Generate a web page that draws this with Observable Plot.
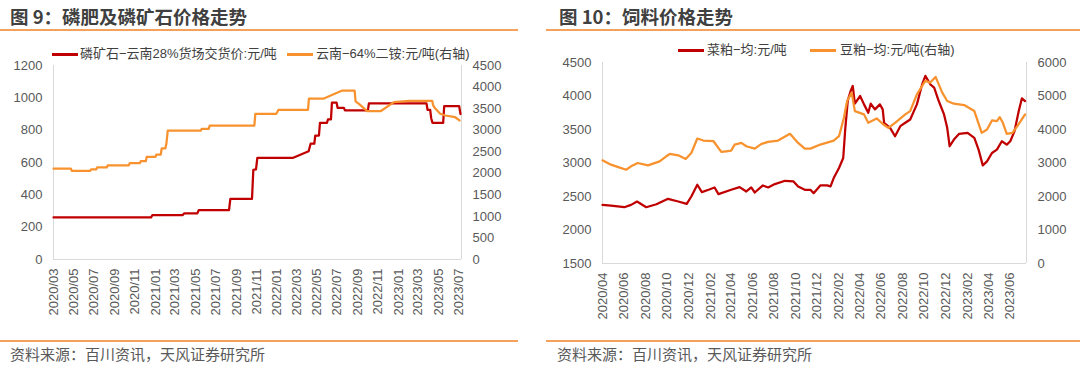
<!DOCTYPE html>
<html><head><meta charset="utf-8">
<script src="https://cdn.jsdelivr.net/npm/d3@7"></script>
<script src="https://cdn.jsdelivr.net/npm/@observablehq/plot@0.6"></script>
<style>
body{margin:0;background:#fff;}
#root{position:relative;width:1080px;height:365px;overflow:hidden;font-family:"Liberation Sans",Arial,"Noto Sans CJK SC",sans-serif;}
.title{position:absolute;top:4px;font-family:"Noto Sans CJK SC",sans-serif;font-weight:bold;font-size:18.5px;color:#404040;white-space:nowrap;line-height:24px}
.rule{position:absolute;height:1.5px;background:#F4A15D}
.src{position:absolute;top:344px;font-family:"Noto Sans CJK SC",sans-serif;font-size:15px;color:#595959;line-height:20px;white-space:nowrap}
.lg{position:absolute;font-family:"Liberation Sans",Arial,"Noto Sans CJK SC",sans-serif;font-size:13px;color:#404040;white-space:nowrap;line-height:16px}
.sw{position:absolute;height:2.5px}
.panel{position:absolute;top:40px}
</style></head><body><div id="root"></div>
<script>
// ---------- 图9 data ----------
const rockPrice = [ // 磷矿石-云南28%货场交货价 (左轴, 元/吨)
["2020-03-01",260],["2020-12-19",260],["2020-12-23",275],["2021-03-24",275],["2021-03-28",285],
["2021-05-07",285],["2021-05-11",305],["2021-08-10",305],["2021-08-14",375],["2021-10-18",375],
["2021-10-22",555],["2021-10-30",558],["2021-11-03",628],["2022-02-17",628],["2022-04-06",670],
["2022-04-12",716],["2022-04-23",716],["2022-04-26",767],["2022-05-07",767],["2022-05-10",845],
["2022-05-31",845],["2022-06-03",866],["2022-06-12",866],["2022-06-15",970],["2022-06-29",970],
["2022-07-02",938],["2022-07-21",938],["2022-07-24",922],["2022-10-01",922],["2022-10-04",965],
["2023-03-26",965],["2023-03-29",926],["2023-04-06",926],["2023-04-09",874],["2023-04-13",845],
["2023-05-15",845],["2023-05-18",948],["2023-07-02",948],["2023-07-06",900]];
const dapPrice = [ // 云南-64%二铵 (右轴, 元/吨)
["2020-03-01",2110],["2020-04-22",2110],["2020-04-25",2055],["2020-06-19",2055],["2020-06-22",2090],
["2020-07-07",2090],["2020-07-10",2135],["2020-08-08",2135],["2020-08-11",2185],["2020-10-13",2185],
["2020-10-16",2235],["2020-11-15",2235],["2020-11-18",2280],["2020-12-03",2280],["2020-12-06",2380],
["2021-01-01",2380],["2021-01-04",2435],["2021-01-17",2435],["2021-01-20",2580],["2021-01-31",2580],
["2021-02-03",2690],["2021-02-07",2990],["2021-05-17",2990],["2021-05-20",3030],["2021-06-10",3030],
["2021-06-13",3105],["2021-10-25",3105],["2021-10-28",3380],["2021-12-30",3380],["2022-01-02",3420],
["2022-01-05",3470],["2022-04-04",3470],["2022-04-07",3730],["2022-05-20",3730],["2022-07-16",3920],
["2022-08-22",3920],["2022-08-25",3670],["2022-09-04",3610],["2022-09-29",3440],["2022-11-08",3440],
["2022-12-18",3650],["2023-02-02",3680],["2023-04-12",3680],["2023-04-15",3572],["2023-04-22",3495],
["2023-05-06",3380],["2023-05-21",3340],["2023-06-20",3300],["2023-07-03",3225]];
const xTicks9 = ["2020/03","2020/05","2020/07","2020/09","2020/11","2021/01","2021/03","2021/05","2021/07",
"2021/09","2021/11","2022/01","2022/03","2022/05","2022/07","2022/09","2022/11","2023/01","2023/03","2023/05","2023/07"];
const yLeft9 = [0,200,400,600,800,1000,1200];
const yRight9 = [0,500,1000,1500,2000,2500,3000,3500,4000,4500];
const xDomain9 = ["2020-03-01","2023-07-09"];

// ---------- 图10 data ----------
const rapeMeal = [ // 菜粕-均 (左轴, 元/吨)
["2020-04-01",2375],["2020-04-25",2365],["2020-06-02",2340],["2020-06-21",2375],["2020-07-08",2425],
["2020-08-03",2340],["2020-09-01",2385],["2020-10-04",2465],["2020-11-02",2425],["2020-11-26",2390],
["2020-12-09",2500],["2020-12-26",2675],["2021-01-08",2565],["2021-01-27",2600],["2021-02-13",2635],
["2021-02-24",2535],["2021-04-01",2600],["2021-04-25",2640],["2021-05-14",2575],["2021-05-28",2635],
["2021-06-07",2560],["2021-06-30",2665],["2021-07-15",2635],["2021-08-03",2685],["2021-09-01",2735],
["2021-09-25",2725],["2021-10-08",2650],["2021-10-27",2600],["2021-11-12",2600],["2021-11-21",2550],
["2021-12-10",2665],["2021-12-29",2665],["2022-01-08",2650],["2022-01-17",2775],["2022-02-01",2925],
["2022-02-13",3075],["2022-02-19",3525],["2022-02-26",3935],["2022-03-06",4075],["2022-03-12",4150],
["2022-03-18",3885],["2022-04-02",4000],["2022-04-13",3875],["2022-04-25",3750],["2022-05-02",3885],
["2022-05-14",3800],["2022-05-28",3875],["2022-06-05",3800],["2022-06-09",3600],["2022-06-26",3525],
["2022-07-10",3400],["2022-07-25",3550],["2022-08-08",3600],["2022-08-22",3650],["2022-09-10",3875],
["2022-09-25",4175],["2022-10-04",4300],["2022-10-18",4175],["2022-10-29",4125],["2022-11-11",3925],
["2022-11-26",3725],["2022-12-05",3525],["2022-12-12",3250],["2022-12-24",3350],["2023-01-08",3435],
["2023-02-01",3450],["2023-02-20",3375],["2023-03-04",3200],["2023-03-16",2965],["2023-03-28",3025],
["2023-04-11",3150],["2023-04-25",3200],["2023-05-09",3325],["2023-05-23",3275],["2023-06-02",3325],
["2023-06-14",3475],["2023-06-26",3775],["2023-07-05",3965],["2023-07-14",3925]];
const soyMeal = [ // 豆粕-均 (右轴, 元/吨)
["2020-04-01",3080],["2020-04-25",2950],["2020-05-18",2870],["2020-06-07",2800],["2020-06-21",2900],
["2020-07-10",3000],["2020-08-08",2930],["2020-09-10",3050],["2020-09-29",3200],["2020-10-09",3270],
["2020-11-02",3230],["2020-11-23",3120],["2020-12-09",3300],["2020-12-26",3730],["2021-01-12",3670],
["2021-02-10",3650],["2021-03-04",3330],["2021-03-18",3350],["2021-04-01",3370],["2021-04-11",3550],
["2021-04-30",3600],["2021-05-14",3500],["2021-06-07",3430],["2021-06-26",3570],["2021-07-15",3630],
["2021-08-12",3670],["2021-09-15",3870],["2021-10-08",3600],["2021-10-27",3430],["2021-11-12",3430],
["2021-12-10",3550],["2022-01-17",3670],["2022-02-01",3800],["2022-02-15",4350],["2022-02-24",4850],
["2022-03-09",5100],["2022-03-18",4550],["2022-04-13",4450],["2022-04-25",4200],["2022-05-19",4330],
["2022-06-07",4150],["2022-06-21",4050],["2022-07-10",4200],["2022-08-08",4450],["2022-08-22",4550],
["2022-09-10",5050],["2022-10-04",5450],["2022-10-18",5400],["2022-11-02",5570],["2022-11-21",5100],
["2022-12-05",4850],["2022-12-24",4770],["2023-01-22",4730],["2023-02-20",4550],["2023-03-13",3900],
["2023-03-28",4000],["2023-04-11",4270],["2023-04-25",4250],["2023-05-03",4370],["2023-05-12",4200],
["2023-05-23",3870],["2023-06-08",3900],["2023-06-22",4100],["2023-07-14",4450]];
const xTicks10 = ["2020/04","2020/06","2020/08","2020/10","2020/12","2021/02","2021/04","2021/06","2021/08",
"2021/10","2021/12","2022/02","2022/04","2022/06","2022/08","2022/10","2022/12","2023/02","2023/04","2023/06"];
const yLeft10 = [1500,2000,2500,3000,3500,4000,4500];
const yRight10 = [0,1000,2000,3000,4000,5000,6000];
const xDomain10 = ["2020-04-01","2023-07-18"];

// ---------- drawing ----------
const RED = "#C00000", ORANGE = "#F7922E", AXIS = "#D9D9D9";
const root = document.getElementById("root");
const parseTick = d3.utcParse("%Y/%m");
const fmtTick = d3.utcFormat("%Y/%m");
const toDate = s => new Date(s + "T00:00:00Z");

function el(cls, style, text) {
  const d = document.createElement("div");
  d.className = cls;
  Object.assign(d.style, style);
  if (text != null) d.textContent = text;
  root.appendChild(d);
  return d;
}

function dualPanel({left, top, width, height, m, xDomain, xTicks, yLeft, yRight, s1, s2}) {
  const [l0, l1] = [yLeft[0], yLeft[yLeft.length - 1]];
  const [r0, r1] = [yRight[0], yRight[yRight.length - 1]];
  const conv = v => l0 + (v - r0) * (l1 - l0) / (r1 - r0);
  const inv = v => r0 + (v - l0) * (r1 - r0) / (l1 - l0);
  const xd = xDomain.map(toDate);
  const chart = Plot.plot({
    width, height,
    marginTop: m[0], marginRight: m[1], marginBottom: m[2], marginLeft: m[3],
    style: {fontFamily: '"Liberation Sans", Arial, sans-serif', fontSize: "13px", color: "#595959", background: "transparent", overflow: "visible"},
    x: {type: "utc", domain: xd, label: null},
    y: {domain: [l0, l1], label: null},
    marks: [
      Plot.ruleY([l0], {stroke: AXIS, strokeWidth: 1}),
      Plot.ruleX(xd, {stroke: AXIS, strokeWidth: 1}),
      Plot.line(s1, {x: d => toDate(d[0]), y: d => d[1], stroke: RED, strokeWidth: 2.25}),
      Plot.line(s2, {x: d => toDate(d[0]), y: d => conv(d[1]), stroke: ORANGE, strokeWidth: 2.25}),
      Plot.axisX(xTicks.map(parseTick), {tickRotate: -90, tickSize: 0, tickPadding: 9, tickFormat: fmtTick, label: null}),
      Plot.axisY(yLeft, {anchor: "left", tickSize: 0, tickPadding: 11, tickFormat: d => String(d), label: null}),
      Plot.axisY(yRight.map(conv), {anchor: "right", tickSize: 0, tickPadding: 11, tickFormat: d => String(Math.round(inv(d))), label: null})
    ]
  });
  const wrap = el("panel", {left: left + "px", top: top + "px"});
  wrap.appendChild(chart);
}

// Panel 9
el("title", {left: "10px"}, "图 9：磷肥及磷矿石价格走势");
el("rule", {left: "0px", width: "518px", top: "29px"});
el("sw", {left: "52px", top: "53px", width: "26px", background: RED});
el("lg", {left: "80px", top: "46px"}, "磷矿石−云南28%货场交货价:元/吨");
el("sw", {left: "287px", top: "53px", width: "26px", background: ORANGE});
el("lg", {left: "316px", top: "46px"}, "云南−64%二铵:元/吨(右轴)");
dualPanel({left: 0, top: 40, width: 540, height: 285, m: [25, 79, 66, 53],
  xDomain: xDomain9, xTicks: xTicks9, yLeft: yLeft9, yRight: yRight9, s1: rockPrice, s2: dapPrice});
el("rule", {left: "0px", width: "518px", top: "340px"});
el("src", {left: "10px"}, "资料来源：百川资讯，天风证券研究所");

// Panel 10
el("title", {left: "559px"}, "图 10：饲料价格走势");
el("rule", {left: "546px", width: "534px", top: "29px"});
el("sw", {left: "678px", top: "49px", width: "26px", background: RED});
el("lg", {left: "707px", top: "42px"}, "菜粕−均:元/吨");
el("sw", {left: "810px", top: "49px", width: "26px", background: ORANGE});
el("lg", {left: "840px", top: "42px"}, "豆粕−均:元/吨(右轴)");
dualPanel({left: 540, top: 40, width: 540, height: 285, m: [22, 54, 62, 62],
  xDomain: xDomain10, xTicks: xTicks10, yLeft: yLeft10, yRight: yRight10, s1: rapeMeal, s2: soyMeal});
el("rule", {left: "546px", width: "534px", top: "340px"});
el("src", {left: "557px"}, "资料来源：百川资讯，天风证券研究所");
</script></body></html>
